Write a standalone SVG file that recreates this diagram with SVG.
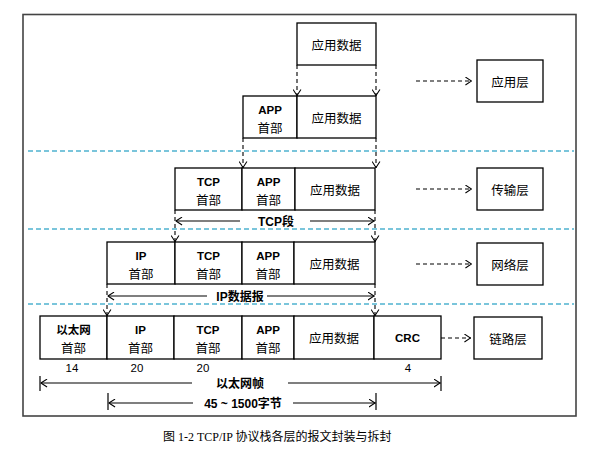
<svg xmlns="http://www.w3.org/2000/svg" width="594" height="463" viewBox="0 0 594 463">
<defs>
<marker id="chev" viewBox="0 0 8 10" refX="8" refY="5" markerWidth="7" markerHeight="9" orient="auto" markerUnits="userSpaceOnUse">
<path d="M0.5,0.5 L7.5,5 L0.5,9.5" fill="none" stroke="#000" stroke-width="1.2"/>
</marker>
<style>
.box{fill:#fff;stroke:#000;stroke-width:1.3}
.frame{fill:none;stroke:#444;stroke-width:1.6}
.sep{stroke:#4fb3d0;stroke-width:1.3;stroke-dasharray:5 3;fill:none}
.dv{stroke:#000;stroke-width:1.1;stroke-dasharray:4 3;fill:none}
.la{stroke:#000;stroke-width:1.1;stroke-dasharray:4 3;fill:none}
.span{stroke:#000;stroke-width:1.2;fill:none}
.tk{stroke:#000;stroke-width:1.2}
.lat{font-family:"Liberation Sans","Noto Sans CJK SC",sans-serif;font-weight:bold;font-size:11.5px;text-anchor:middle;dominant-baseline:central}
.cjk{font-family:"Noto Sans CJK SC",sans-serif;font-size:12.5px;text-anchor:middle;dominant-baseline:central}
.num{font-family:"Liberation Sans",sans-serif;font-size:11.5px;text-anchor:middle;dominant-baseline:central}
.lbl{font-family:"Liberation Sans","Noto Sans CJK SC",sans-serif;font-weight:bold;font-size:12px;text-anchor:middle;dominant-baseline:central}
.cap{font-family:"Liberation Serif","Noto Sans CJK SC",serif;font-size:12px;dominant-baseline:central}
</style>
</defs>
<rect width="594" height="463" fill="#fff"/>
<rect class="frame" x="23" y="14.5" width="553" height="401.5"/>
<g id="separators">
<line class="sep" x1="28" y1="151" x2="574" y2="151"/>
<line class="sep" x1="28" y1="229" x2="574" y2="229"/>
<line class="sep" x1="28" y1="304" x2="574" y2="304"/>
</g>

<g id="row1">
<g id="r1-data"><rect class="box" x="297" y="23" width="79" height="42"/><text class="cjk" x="336.5" y="44">应用数据</text></g>
</g>
<g id="row2">
<g id="r2-app"><rect class="box" x="243" y="96" width="54" height="42"/><text class="lat" x="270" y="110">APP</text><text class="cjk" x="270" y="127">首部</text></g>
<g id="r2-data"><rect class="box" x="297" y="96" width="79" height="42"/><text class="cjk" x="336.5" y="117">应用数据</text></g>
</g>
<g id="row3">
<g id="r3-tcp"><rect class="box" x="175" y="168" width="67" height="42"/><text class="lat" x="208.5" y="182">TCP</text><text class="cjk" x="208.5" y="199">首部</text></g>
<g id="r3-app"><rect class="box" x="242" y="168" width="53" height="42"/><text class="lat" x="268.5" y="182">APP</text><text class="cjk" x="268.5" y="199">首部</text></g>
<g id="r3-data"><rect class="box" x="295" y="168" width="80" height="42"/><text class="cjk" x="335" y="189">应用数据</text></g>
</g>
<g id="row4">
<g id="r4-ip"><rect class="box" x="107" y="242" width="68" height="42"/><text class="lat" x="141" y="256">IP</text><text class="cjk" x="141" y="273">首部</text></g>
<g id="r4-tcp"><rect class="box" x="175" y="242" width="67" height="42"/><text class="lat" x="208.5" y="256">TCP</text><text class="cjk" x="208.5" y="273">首部</text></g>
<g id="r4-app"><rect class="box" x="242" y="242" width="52" height="42"/><text class="lat" x="268" y="256">APP</text><text class="cjk" x="268" y="273">首部</text></g>
<g id="r4-data"><rect class="box" x="294" y="242" width="81" height="42"/><text class="cjk" x="334.5" y="263">应用数据</text></g>
</g>
<g id="row5">
<g id="r5-eth"><rect class="box" x="40" y="316" width="67" height="43"/><text class="lat" x="73.5" y="330">以太网</text><text class="cjk" x="73.5" y="347">首部</text></g>
<g id="r5-ip"><rect class="box" x="107" y="316" width="67" height="43"/><text class="lat" x="140.5" y="330">IP</text><text class="cjk" x="140.5" y="347">首部</text></g>
<g id="r5-tcp"><rect class="box" x="174" y="316" width="68" height="43"/><text class="lat" x="208" y="330">TCP</text><text class="cjk" x="208" y="347">首部</text></g>
<g id="r5-app"><rect class="box" x="242" y="316" width="52" height="43"/><text class="lat" x="268" y="330">APP</text><text class="cjk" x="268" y="347">首部</text></g>
<g id="r5-data"><rect class="box" x="294" y="316" width="80" height="43"/><text class="cjk" x="334" y="337.5">应用数据</text></g>
<g id="r5-crc"><rect class="box" x="374" y="316" width="67" height="43"/><text class="lat" x="407.5" y="337.5">CRC</text></g>
</g>
<g id="numbers">
<text class="num" x="72" y="368">14</text>
<text class="num" x="137" y="368">20</text>
<text class="num" x="203" y="368">20</text>
<text class="num" x="408" y="368">4</text>
</g>
<g id="layers">
<g id="layer-app"><rect class="box" x="477" y="60" width="66" height="42"/><text class="cjk" x="510" y="81">应用层</text></g>
<g id="layer-transport"><rect class="box" x="477" y="168" width="66" height="42"/><text class="cjk" x="510" y="189">传输层</text></g>
<g id="layer-network"><rect class="box" x="477" y="243" width="66" height="42"/><text class="cjk" x="510" y="264">网络层</text></g>
<g id="layer-link"><rect class="box" x="474" y="317" width="68" height="42"/><text class="cjk" x="508" y="338">链路层</text></g>
</g>

<g id="connectors">
<line class="dv" x1="297" y1="65" x2="297" y2="96" marker-end="url(#chev)"/>
<line class="dv" x1="376" y1="65" x2="376" y2="96" marker-end="url(#chev)"/>
<line class="dv" x1="243" y1="138" x2="243" y2="168" marker-end="url(#chev)"/>
<line class="dv" x1="376" y1="138" x2="376" y2="168" marker-end="url(#chev)"/>
<line class="dv" x1="175" y1="210" x2="175" y2="242" marker-end="url(#chev)"/>
<line class="dv" x1="375" y1="210" x2="375" y2="242" marker-end="url(#chev)"/>
<line class="dv" x1="107" y1="284" x2="107" y2="316" marker-end="url(#chev)"/>
<line class="dv" x1="375" y1="284" x2="375" y2="316" marker-end="url(#chev)"/>

<line class="span" x1="240" y1="221" x2="175.5" y2="221" marker-end="url(#chev)"/>
<line class="span" x1="310" y1="221" x2="374.5" y2="221" marker-end="url(#chev)"/>
<text class="lbl" x="276" y="222">TCP段</text>

<line class="span" x1="207" y1="296" x2="107.5" y2="296" marker-end="url(#chev)"/>
<line class="span" x1="267" y1="296" x2="374.5" y2="296" marker-end="url(#chev)"/>
<text class="lbl" x="240" y="297">IP数据报</text>

<line class="tk" x1="40" y1="376" x2="40" y2="391"/>
<line class="tk" x1="441" y1="376" x2="441" y2="391"/>
<line class="span" x1="192" y1="383" x2="40.5" y2="383" marker-end="url(#chev)"/>
<line class="span" x1="288" y1="383" x2="440.5" y2="383" marker-end="url(#chev)"/>
<text class="lbl" x="240" y="384">以太网帧</text>

<line class="tk" x1="108" y1="393" x2="108" y2="410"/>
<line class="tk" x1="376" y1="393" x2="376" y2="410"/>
<line class="span" x1="193" y1="403" x2="108.5" y2="403" marker-end="url(#chev)"/>
<line class="span" x1="293" y1="403" x2="375.5" y2="403" marker-end="url(#chev)"/>
<text class="lbl" x="243" y="404">45 ~ 1500字节</text>

<line class="la" x1="416" y1="81" x2="472" y2="81" marker-end="url(#chev)"/>
<line class="la" x1="416" y1="189" x2="472" y2="189" marker-end="url(#chev)"/>
<line class="la" x1="416" y1="264" x2="472" y2="264" marker-end="url(#chev)"/>
<line class="la" x1="441" y1="338" x2="471" y2="338" marker-end="url(#chev)"/>
</g>
<text class="cap" x="163" y="437">图 1-2 TCP/IP 协议栈各层的报文封装与拆封</text>
</svg>
